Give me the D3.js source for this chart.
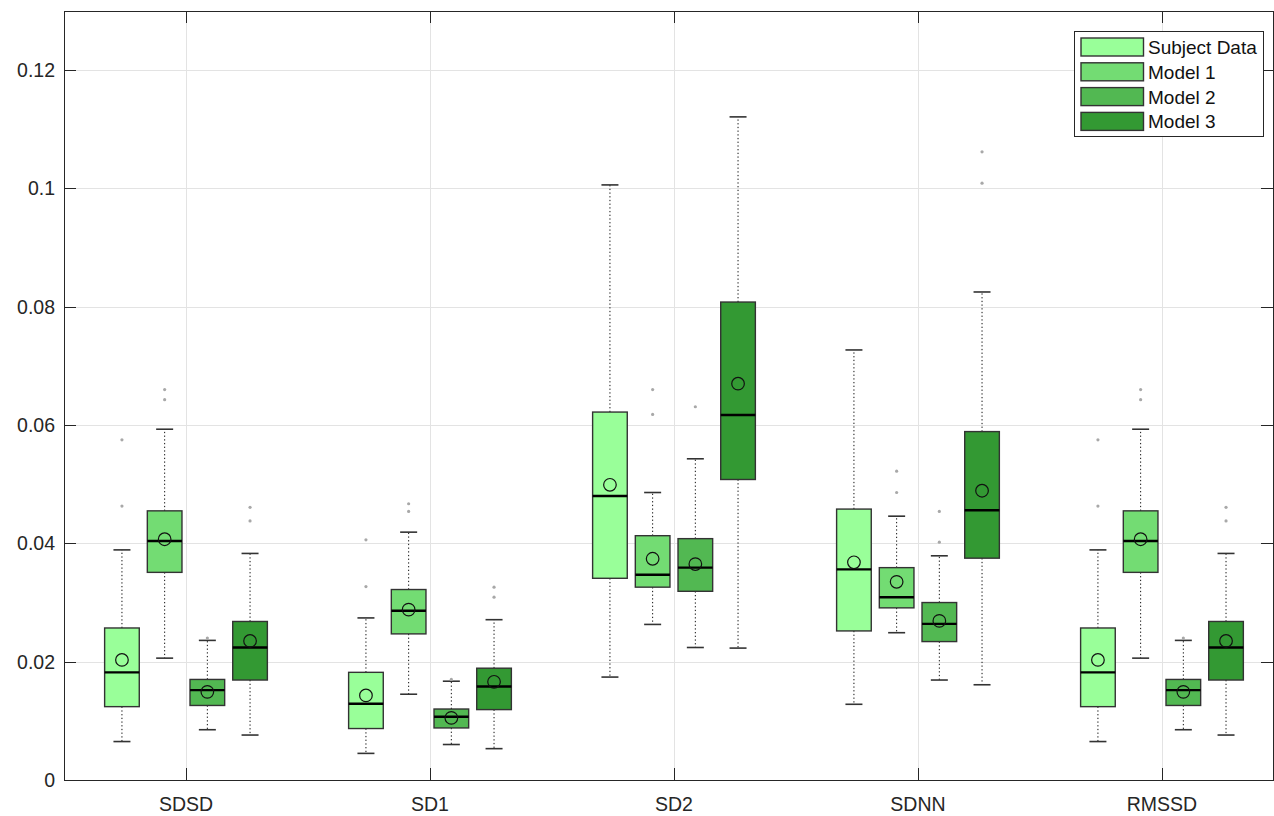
<!DOCTYPE html>
<html>
<head>
<meta charset="utf-8">
<script src="https://cdn.jsdelivr.net/npm/d3@7"></script>
<style>
  body { margin: 0; background: #fff; }
  svg { font-family: "Liberation Sans", Arial, sans-serif; }
</style>
</head>
<body>
<script>
// categories and series
var categories = ["SDSD", "SD1", "SD2", "SDNN", "RMSSD"];
var series = ["Subject Data", "Model 1", "Model 2", "Model 3"];
var colors = ["#99ff99", "#73dc73", "#52b852", "#339933"];
var yTicks = [0, 0.02, 0.04, 0.06, 0.08, 0.1, 0.12];

// box statistics, one row per series, one column per category
var whiskerLow = [
  [0.0065, 0.0045, 0.0174, 0.0128, 0.0065],
  [0.0206, 0.0145, 0.0263, 0.0249, 0.0206],
  [0.0085, 0.0060, 0.0224, 0.0169, 0.0085],
  [0.0076, 0.0053, 0.0223, 0.0161, 0.0076]
];
var q1 = [
  [0.0124, 0.0087, 0.0341, 0.0252, 0.0124],
  [0.0351, 0.0247, 0.0326, 0.0291, 0.0351],
  [0.0126, 0.0088, 0.0319, 0.0234, 0.0126],
  [0.0169, 0.0119, 0.0508, 0.0375, 0.0169]
];
var median = [
  [0.0182, 0.0129, 0.0480, 0.0356, 0.0182],
  [0.0404, 0.0286, 0.0347, 0.0309, 0.0404],
  [0.0152, 0.0107, 0.0359, 0.0264, 0.0152],
  [0.0224, 0.0158, 0.0617, 0.0456, 0.0224]
];
var q3 = [
  [0.0257, 0.0182, 0.0622, 0.0458, 0.0257],
  [0.0455, 0.0322, 0.0413, 0.0359, 0.0455],
  [0.0170, 0.0120, 0.0408, 0.0300, 0.0170],
  [0.0268, 0.0189, 0.0808, 0.0589, 0.0268]
];
var whiskerHigh = [
  [0.0389, 0.0274, 0.1006, 0.0727, 0.0389],
  [0.0593, 0.0419, 0.0486, 0.0446, 0.0593],
  [0.0236, 0.0167, 0.0543, 0.0379, 0.0236],
  [0.0383, 0.0271, 0.1121, 0.0825, 0.0383]
];
var means = [
  [0.0203, 0.0143, 0.0499, 0.0368, 0.0203],
  [0.0407, 0.0288, 0.0374, 0.0335, 0.0407],
  [0.0149, 0.0105, 0.0365, 0.0269, 0.0149],
  [0.0235, 0.0166, 0.0670, 0.0489, 0.0235]
];
var outliers = [
  [[0.0575, 0.0463], [0.0406, 0.0327], [], [], [0.0575, 0.0463]],
  [[0.0660, 0.0643], [0.0467, 0.0454], [0.0660, 0.0618], [0.0522, 0.0486], [0.0660, 0.0643]],
  [[0.0240], [0.0170], [0.0631], [0.0454, 0.0402], [0.0240]],
  [[0.0461, 0.0438], [0.0326, 0.0309], [], [0.1062, 0.1009], [0.0461, 0.0438]]
];
var offsets = [-0.2625, -0.0875, 0.0875, 0.2625];

var w = 1274, h = 816;
var mLeft = 64, mRight = 1273, mTop = 11, mBottom = 780;

var x = d3.scaleLinear().domain([0.5, 5.455]).range([mLeft, mRight]);
var y = d3.scaleLinear().domain([0, 0.13]).range([mBottom, mTop]);
var boxW = x(0.142) - x(0);
var capW = 17;

var svg = d3.select("body").append("svg").attr("width", w).attr("height", h);

// grid
var grid = svg.append("g").attr("stroke", "#e3e3e3").attr("stroke-width", 1);
grid.selectAll("line.gy").data(yTicks.slice(1)).enter().append("line")
  .attr("x1", mLeft).attr("x2", mRight)
  .attr("y1", function(d) { return Math.round(y(d)) + 0.5; })
  .attr("y2", function(d) { return Math.round(y(d)) + 0.5; });
grid.selectAll("line.gx").data(categories).enter().append("line")
  .attr("y1", mTop).attr("y2", mBottom)
  .attr("x1", function(d, i) { return Math.round(x(i + 1)) + 0.5; })
  .attr("x2", function(d, i) { return Math.round(x(i + 1)) + 0.5; });

// build flat list of boxes
var boxes = [];
series.forEach(function(s, si) {
  categories.forEach(function(c, ci) {
    boxes.push({
      si: si, ci: ci, cx: x(ci + 1 + offsets[si]),
      lo: whiskerLow[si][ci], q1: q1[si][ci], med: median[si][ci],
      q3: q3[si][ci], hi: whiskerHigh[si][ci], mean: means[si][ci],
      out: outliers[si][ci]
    });
  });
});

var g = svg.selectAll("g.box").data(boxes).enter().append("g").attr("class", "box");

// whiskers (dotted)
g.append("line")
  .attr("x1", function(d) { return d.cx; }).attr("x2", function(d) { return d.cx; })
  .attr("y1", function(d) { return y(d.q3); }).attr("y2", function(d) { return y(d.hi); })
  .attr("stroke", "#111").attr("stroke-width", 1).attr("stroke-dasharray", "1.3,2.4");
g.append("line")
  .attr("x1", function(d) { return d.cx; }).attr("x2", function(d) { return d.cx; })
  .attr("y1", function(d) { return y(d.q1); }).attr("y2", function(d) { return y(d.lo); })
  .attr("stroke", "#111").attr("stroke-width", 1).attr("stroke-dasharray", "1.3,2.4");
// caps
g.append("line")
  .attr("x1", function(d) { return d.cx - capW / 2; }).attr("x2", function(d) { return d.cx + capW / 2; })
  .attr("y1", function(d) { return y(d.hi); }).attr("y2", function(d) { return y(d.hi); })
  .attr("stroke", "#333").attr("stroke-width", 1.6);
g.append("line")
  .attr("x1", function(d) { return d.cx - capW / 2; }).attr("x2", function(d) { return d.cx + capW / 2; })
  .attr("y1", function(d) { return y(d.lo); }).attr("y2", function(d) { return y(d.lo); })
  .attr("stroke", "#333").attr("stroke-width", 1.6);

// boxes
g.append("rect")
  .attr("x", function(d) { return d.cx - boxW / 2; })
  .attr("width", boxW)
  .attr("y", function(d) { return y(d.q3); })
  .attr("height", function(d) { return y(d.q1) - y(d.q3); })
  .attr("fill", function(d) { return colors[d.si]; })
  .attr("stroke", "#333").attr("stroke-width", 1.4);

// median
g.append("line")
  .attr("x1", function(d) { return d.cx - boxW / 2; }).attr("x2", function(d) { return d.cx + boxW / 2; })
  .attr("y1", function(d) { return y(d.med); }).attr("y2", function(d) { return y(d.med); })
  .attr("stroke", "#000").attr("stroke-width", 2.4);

// mean marker
g.append("circle")
  .attr("cx", function(d) { return d.cx; })
  .attr("cy", function(d) { return y(d.mean); })
  .attr("r", 6.3)
  .attr("fill", "none").attr("stroke", "#111").attr("stroke-width", 1.2);

// outliers
g.selectAll("circle.out").data(function(d) {
    return d.out.map(function(v) { return { cx: d.cx, v: v }; });
  }).enter().append("circle")
  .attr("class", "out")
  .attr("cx", function(d) { return d.cx; })
  .attr("cy", function(d) { return y(d.v); })
  .attr("r", 1.6)
  .attr("fill", "#a8a8a8");

// axes frame
var axc = "#262626";
svg.append("rect").attr("x", mLeft + 0.5).attr("y", mTop + 0.5)
  .attr("width", mRight - mLeft).attr("height", mBottom - mTop)
  .attr("fill", "none").attr("stroke", axc).attr("stroke-width", 1);

// y ticks + labels
var yt = svg.append("g");
yTicks.forEach(function(t) {
  var py = Math.round(y(t)) + 0.5;
  yt.append("line").attr("x1", mLeft).attr("x2", mLeft + 12).attr("y1", py).attr("y2", py).attr("stroke", axc);
  yt.append("line").attr("x1", mRight - 12).attr("x2", mRight).attr("y1", py).attr("y2", py).attr("stroke", axc);
});
yt.selectAll("text").data(yTicks).enter().append("text")
  .attr("x", 55).attr("y", function(d) { return y(d); })
  .attr("dy", "0.36em")
  .attr("text-anchor", "end")
  .attr("font-size", "19.5px").attr("fill", axc)
  .text(function(d) { return d === 0 ? "0" : String(+d.toFixed(2)); });

// x ticks + labels
var xt = svg.append("g");
categories.forEach(function(c, i) {
  var px = Math.round(x(i + 1)) + 0.5;
  xt.append("line").attr("x1", px).attr("x2", px).attr("y1", mBottom - 12).attr("y2", mBottom).attr("stroke", axc);
  xt.append("line").attr("x1", px).attr("x2", px).attr("y1", mTop).attr("y2", mTop + 12).attr("stroke", axc);
});
xt.selectAll("text").data(categories).enter().append("text")
  .attr("x", function(d, i) { return x(i + 1); })
  .attr("y", 811)
  .attr("text-anchor", "middle")
  .attr("font-size", "19.5px").attr("fill", axc)
  .text(function(d) { return d; });

// legend
var lg = svg.append("g");
lg.append("rect").attr("x", 1074.5).attr("y", 31.5).attr("width", 189).attr("height", 105)
  .attr("fill", "#fff").attr("stroke", "#262626").attr("stroke-width", 1);
var rows = lg.selectAll("g.row").data(series).enter().append("g")
  .attr("transform", function(d, i) { return "translate(0," + (i * 24.8) + ")"; });
rows.append("rect").attr("x", 1081).attr("y", 38).attr("width", 62.5).attr("height", 18)
  .attr("fill", function(d, i) { return colors[i]; })
  .attr("stroke", "#333").attr("stroke-width", 1.4);
rows.append("text").attr("x", 1148).attr("y", 54)
  .attr("font-size", "19px").attr("fill", "#111")
  .text(function(d) { return d; });
</script>
</body>
</html>
